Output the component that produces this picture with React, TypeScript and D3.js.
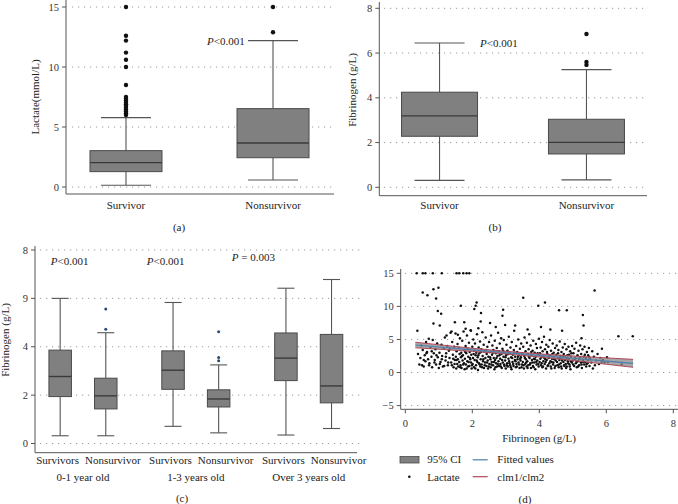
import React from "react";
import * as d3 from "d3";

const FONT = "'Liberation Serif', 'Times New Roman', serif";

// (a) lactate by outcome
const outcomeA = ["Survivor", "Nonsurvivor"];
const lactateStats = [
  { lo: 0.14, q1: 1.28, med: 2.03, q3: 3.03, hi: 5.78 },
  { lo: 0.58, q1: 2.44, med: 3.67, q3: 6.53, hi: 12.2 },
];
const lactateOutliers = [
  [15, 12.6, 12.2, 11.2, 10.6, 10.0, 8.5, 7.5, 7.35, 7.2, 7.05, 6.9, 6.75, 6.6, 6.45, 6.3, 6.15, 6.0],
  [12.9, 15],
];
const lactateTicks = [0, 5, 10, 15];

// (b) fibrinogen by outcome
const fibStats = [
  { lo: 0.31, q1: 2.28, med: 3.19, q3: 4.25, hi: 6.45 },
  { lo: 0.33, q1: 1.49, med: 2.01, q3: 3.04, hi: 5.26 },
];
const fibOutliers = [[], [6.85, 5.6, 5.47]];
const fibTicks = [0, 2, 4, 6, 8];

// (c) fibrinogen by age group and outcome
const ageGroups = ["0-1 year old", "1-3 years old", "Over 3 years old"];
const outcomeC = ["Survivors", "Nonsurvivor"];
const ageStats = [
  { lo: 0.32, q1: 1.94, med: 2.77, q3: 3.86, hi: 6.0 },
  { lo: 0.32, q1: 1.43, med: 1.97, q3: 2.7, hi: 4.58 },
  { lo: 0.71, q1: 2.24, med: 3.03, q3: 3.83, hi: 5.83 },
  { lo: 0.44, q1: 1.51, med: 1.84, q3: 2.22, hi: 3.25 },
  { lo: 0.35, q1: 2.6, med: 3.53, q3: 4.57, hi: 6.42 },
  { lo: 0.62, q1: 1.68, med: 2.38, q3: 4.51, hi: 6.78 },
];
const ageOutliers = [[], [5.56, 4.72], [], [4.62, 3.56, 3.42], [], []];
const ageP = [
  ["P", "<0.001"],
  ["P", "<0.001"],
  ["P", " = 0.003"],
];
const ageTickVals = [0, 2, 4, 6, 8];
const ageTickLabels = ["0", "2", "4", "9", "8"];

// (d) lactate vs fibrinogen
const lactatePoints: [number, number][] = [
  [0.34, 15], [0.52, 15], [0.6, 15], [0.82, 15], [1.09, 15], [1.53, 15], [1.61, 15], [1.73, 15], [1.83, 15], [1.91, 15],
  [0.52, 12.1], [0.66, 11.7], [0.84, 12.6], [0.99, 12.8], [0.92, 11.2], [0.97, 9.3], [1.07, 8.9], [0.84, 7.4], [1.03, 7.1], [0.36, 6.3],
  [2.13, 10.6], [2.1, 10.1], [1.66, 10.1], [2.06, 9.6], [2.26, 9.0], [2.92, 9.5], [2.9, 8.6], [3.52, 11.3], [3.97, 10.1], [4.17, 10.6],
  [4.59, 9.4], [4.82, 9.4], [5.3, 8.7], [5.32, 7.1], [5.65, 12.4], [6.36, 5.5], [6.79, 5.5], [6.46, 1.2], [5.26, 5.2], [5.87, 3.6],
  [1.48, 7.6], [1.76, 7.6], [1.8, 6.6], [1.96, 6.3], [2.18, 6.7], [2.53, 7.5], [2.7, 6.9], [2.98, 7.2], [3.28, 7.1], [3.65, 6.5],
  [4.05, 6.9], [4.33, 6.5], [4.68, 6.3], [2.25, 7.7], [1.38, 6.2], [1.23, 5.6], [1.57, 5.7],
  [0.38, 2.8], [0.42, 1.2], [0.45, 2.2], [0.48, 4.1], [0.5, 1.1], [0.52, 3.4], [0.55, 0.9], [0.58, 2.6], [0.6, 1.7], [0.62, 4.6],
  [0.65, 3.1], [0.68, 2.0], [0.7, 5.1], [0.72, 1.4], [0.75, 3.8], [0.78, 2.4], [0.8, 0.8], [0.82, 4.9], [0.85, 2.9], [0.88, 1.9],
  [0.9, 3.5], [0.92, 1.2], [0.95, 4.4], [0.97, 2.3], [1.0, 0.7],
  [1.02, 3.0], [1.05, 1.6], [1.08, 4.2], [1.1, 2.5], [1.12, 0.9], [1.15, 3.6], [1.18, 5.3], [1.2, 1.8], [1.22, 2.9], [1.25, 4.0],
  [1.27, 1.1], [1.3, 3.3], [1.32, 2.2], [1.35, 6.0], [1.37, 1.5], [1.4, 4.6], [1.42, 2.7], [1.44, 0.8], [1.46, 3.9], [1.48, 1.9], [1.5, 5.9],
  [1.51, 2.4], [1.52, 0.6], [1.53, 3.2], [1.55, 1.3], [1.56, 4.3], [1.57, 2.0], [1.58, 0.9], [1.6, 3.7], [1.61, 1.6], [1.62, 2.8],
  [1.63, 5.2], [1.65, 1.1], [1.66, 2.3], [1.67, 3.0], [1.68, 0.7], [1.7, 4.8], [1.71, 1.8], [1.72, 2.6], [1.74, 6.2], [1.75, 1.4],
  [1.76, 3.4], [1.77, 0.5], [1.78, 2.1], [1.8, 4.0], [1.81, 1.2], [1.82, 2.9], [1.84, 5.6], [1.85, 1.7], [1.86, 3.6], [1.87, 0.9],
  [1.88, 2.4], [1.9, 4.5], [1.91, 1.0], [1.92, 3.1], [1.94, 2.0], [1.95, 6.4], [1.96, 1.5], [1.97, 2.7], [1.98, 0.6], [2.0, 3.9],
  [2.01, 1.3], [2.02, 2.2], [2.03, 5.0], [2.05, 0.8], [2.06, 3.3], [2.07, 1.9], [2.08, 4.4], [2.1, 2.6], [2.11, 1.1], [2.12, 3.0],
  [2.14, 5.8], [2.15, 1.6], [2.16, 2.3], [2.17, 0.4], [2.19, 3.8], [2.2, 1.4], [2.21, 2.9], [2.23, 4.7], [2.24, 0.9], [2.25, 2.0],
  [2.27, 3.5], [2.28, 1.2], [2.3, 6.1], [2.31, 2.5], [2.32, 1.7], [2.34, 4.2], [2.35, 0.7], [2.36, 3.2], [2.38, 1.5], [2.39, 2.2],
  [2.4, 5.3], [2.42, 1.0], [2.43, 2.8], [2.45, 3.9], [2.46, 1.8], [2.47, 0.6], [2.48, 2.4], [2.5, 4.6],
  [2.51, 1.3], [2.52, 3.1], [2.54, 2.0], [2.55, 0.8], [2.56, 5.6], [2.58, 1.6], [2.59, 2.7], [2.6, 4.1], [2.62, 1.1], [2.63, 3.4],
  [2.64, 2.2], [2.66, 0.5], [2.67, 4.8], [2.68, 1.9], [2.7, 2.9], [2.71, 1.4], [2.73, 3.7], [2.74, 0.9], [2.75, 2.5], [2.77, 6.0],
  [2.78, 1.7], [2.79, 3.2], [2.8, 1.0], [2.82, 4.4], [2.83, 2.1], [2.84, 1.3], [2.86, 5.2], [2.87, 2.8], [2.88, 0.7], [2.9, 3.6],
  [2.91, 1.5], [2.93, 2.4], [2.94, 4.9], [2.95, 1.2], [2.97, 3.0], [2.98, 1.8], [3.0, 0.6],
  [3.01, 2.6], [3.02, 4.2], [3.04, 1.4], [3.05, 3.3], [3.06, 0.9], [3.08, 2.1], [3.09, 5.4], [3.1, 1.7], [3.12, 2.9], [3.13, 1.1],
  [3.14, 3.8], [3.16, 2.3], [3.17, 0.5], [3.18, 4.6], [3.2, 1.6], [3.21, 2.7], [3.23, 1.0], [3.24, 3.4], [3.25, 6.3], [3.27, 1.9],
  [3.28, 2.4], [3.3, 0.8], [3.31, 4.0], [3.32, 1.3], [3.34, 3.1], [3.35, 2.0], [3.37, 5.0], [3.38, 1.5], [3.39, 2.6], [3.41, 0.7],
  [3.42, 3.6], [3.44, 1.8], [3.45, 2.3], [3.46, 4.4], [3.48, 1.2], [3.49, 2.9],
  [3.51, 1.6], [3.52, 3.9], [3.54, 0.6], [3.55, 2.5], [3.56, 5.3], [3.58, 1.3], [3.59, 3.2], [3.6, 2.0], [3.62, 0.9], [3.63, 4.5],
  [3.64, 1.7], [3.66, 2.8], [3.67, 1.1], [3.68, 3.5], [3.7, 5.8], [3.71, 2.2], [3.73, 1.4], [3.74, 4.1], [3.75, 0.7], [3.77, 2.6],
  [3.78, 1.9], [3.8, 3.3], [3.81, 1.0], [3.82, 4.8], [3.84, 2.1], [3.85, 1.5], [3.86, 3.0], [3.88, 0.5], [3.89, 2.4], [3.9, 4.3],
  [3.92, 1.2], [3.93, 3.7], [3.94, 1.8], [3.96, 2.7], [3.98, 0.9], [3.99, 5.1],
  [4.01, 1.6], [4.02, 2.9], [4.04, 3.8], [4.05, 1.1], [4.06, 2.3], [4.08, 4.6], [4.09, 0.8], [4.1, 3.2], [4.12, 1.7], [4.13, 2.5],
  [4.14, 5.4], [4.16, 1.3], [4.17, 3.5], [4.18, 2.0], [4.2, 0.6], [4.21, 4.2], [4.22, 1.9], [4.24, 2.8], [4.25, 1.0], [4.27, 3.9],
  [4.28, 2.2], [4.3, 1.4], [4.31, 4.9], [4.32, 2.6], [4.34, 0.9], [4.35, 3.3], [4.37, 1.6], [4.38, 2.1], [4.4, 4.4], [4.41, 1.2],
  [4.43, 3.0], [4.44, 2.4], [4.46, 0.7], [4.47, 3.7], [4.49, 1.8],
  [4.51, 2.7], [4.52, 4.1], [4.54, 1.1], [4.55, 2.2], [4.57, 3.4], [4.58, 0.8], [4.6, 1.9], [4.61, 4.7], [4.63, 2.5], [4.64, 1.4],
  [4.66, 3.1], [4.67, 0.6], [4.69, 2.0], [4.7, 3.8], [4.72, 1.6], [4.73, 2.8], [4.75, 1.0], [4.76, 4.3], [4.78, 2.3], [4.79, 1.3],
  [4.81, 3.5], [4.82, 0.9], [4.84, 2.6], [4.85, 1.7], [4.87, 3.9], [4.88, 2.1], [4.9, 1.2], [4.92, 3.2], [4.93, 0.5], [4.95, 2.4],
  [4.97, 1.5], [4.98, 4.0],
  [5.0, 1.8], [5.02, 2.9], [5.04, 1.0], [5.05, 3.6], [5.07, 2.2], [5.09, 1.4], [5.1, 4.5], [5.12, 0.8], [5.14, 2.6], [5.15, 1.7],
  [5.17, 3.3], [5.19, 1.1], [5.2, 2.0], [5.22, 4.1], [5.24, 1.5], [5.25, 2.8], [5.27, 0.7], [5.29, 3.5], [5.3, 1.9], [5.32, 2.4],
  [5.34, 1.2], [5.35, 3.9], [5.37, 1.6], [5.39, 2.2], [5.4, 0.9], [5.42, 3.1], [5.44, 1.4], [5.46, 2.6], [5.48, 3.7], [5.5, 1.0],
  [5.52, 2.0], [5.55, 1.5], [5.58, 3.2], [5.6, 0.6], [5.63, 2.4], [5.66, 1.1], [5.7, 1.8], [5.74, 2.8], [5.78, 1.3], [5.82, 2.2],
  [5.86, 1.6], [5.9, 1.9], [5.95, 1.5], [6.02, 2.3], [6.05, 1.6],
  [1.53, 1.9], [1.64, 0.8], [1.69, 2.5], [1.73, 1.2], [1.79, 3.1], [1.83, 0.6], [1.89, 1.6], [1.93, 2.2], [1.99, 1.1], [2.04, 2.8],
  [2.09, 0.6], [2.13, 1.8], [2.18, 2.6], [2.22, 1.2], [2.26, 3.1], [2.29, 0.8], [2.33, 2.0], [2.37, 1.1], [2.41, 3.4], [2.44, 1.5],
  [2.49, 0.9], [2.53, 2.3], [2.57, 1.2], [2.61, 3.0], [2.65, 1.6], [2.69, 0.8], [2.72, 2.2], [2.76, 1.3], [2.81, 2.6], [2.85, 0.9],
  [2.89, 1.9], [2.92, 3.3], [2.96, 1.0], [2.99, 2.3], [3.03, 1.1], [3.07, 2.8], [3.11, 1.4], [3.15, 0.8], [3.19, 2.2], [3.22, 1.3],
  [3.26, 3.0], [3.29, 1.7], [3.33, 0.9], [3.36, 2.4], [3.4, 1.2], [3.43, 2.1], [3.47, 0.8], [3.5, 2.7], [3.53, 1.1], [3.57, 2.2],
  [3.61, 1.5], [3.65, 0.7], [3.69, 2.4], [3.72, 1.2], [3.76, 3.1], [3.79, 1.5], [3.83, 0.8], [3.87, 2.0], [3.91, 1.6], [3.95, 2.9],
  [3.97, 1.3], [4.03, 2.1], [4.07, 1.4], [4.11, 0.9], [4.15, 2.2], [4.19, 1.6], [4.23, 3.1], [4.26, 1.1], [4.29, 2.4], [4.33, 1.7],
  [4.36, 0.6], [4.39, 2.8], [4.42, 1.5], [4.45, 2.0], [4.48, 1.0], [4.53, 1.6], [4.56, 2.9], [4.59, 1.2], [4.62, 2.2], [4.65, 0.9],
  [4.68, 1.8], [4.71, 2.5], [4.74, 1.1], [4.77, 1.9], [4.8, 0.7], [4.83, 2.2], [4.86, 1.4], [4.89, 2.7], [4.91, 0.9], [4.94, 1.7],
  [4.96, 2.9], [5.01, 1.2], [5.06, 2.0], [5.11, 1.6], [5.16, 0.9], [5.21, 2.3], [5.26, 1.2], [5.31, 1.6], [5.36, 2.7], [5.41, 1.3],
  [5.45, 1.9], [5.49, 2.3], [0.55, 1.9], [0.63, 2.9], [0.71, 1.1], [0.79, 3.2], [0.87, 1.5], [0.93, 2.6], [1.03, 1.3], [1.09, 2.0],
  [1.16, 1.0], [1.21, 2.4], [1.28, 1.5], [1.33, 3.6], [1.39, 1.1], [1.43, 2.1], [1.47, 1.3],
];
const fitX = [0.3, 1, 2, 3, 4, 5, 6, 6.8];
const fitY = [4.16, 3.86, 3.43, 3.01, 2.58, 2.16, 1.73, 1.39];
const ciHalf = [0.42, 0.34, 0.24, 0.2, 0.24, 0.34, 0.48, 0.6];
const scatterYTicks = [-5, 0, 5, 10, 15];
const scatterXTicks = [0, 2, 4, 6, 8];

const AXIS = "#555";
const GRID = "#9a9a9a";
const BOX_FILL = "#808080";
const BOX_LINE = "#4a4a4a";

type Stat = { lo: number; q1: number; med: number; q3: number; hi: number };

function Box({ cx, w, cap, s, y, out, r, dot }: any) {
  const st: Stat = s;
  return (
    <g>
      <line x1={cx} x2={cx} y1={y(st.q3)} y2={y(st.hi)} stroke={AXIS} strokeWidth={1.1} />
      <line x1={cx} x2={cx} y1={y(st.q1)} y2={y(st.lo)} stroke={AXIS} strokeWidth={1.1} />
      <line x1={cx - cap / 2} x2={cx + cap / 2} y1={y(st.hi)} y2={y(st.hi)} stroke={AXIS} strokeWidth={1.1} />
      <line x1={cx - cap / 2} x2={cx + cap / 2} y1={y(st.lo)} y2={y(st.lo)} stroke={AXIS} strokeWidth={1.1} />
      <rect x={cx - w / 2} y={y(st.q3)} width={w} height={y(st.q1) - y(st.q3)} fill={BOX_FILL} stroke={BOX_LINE} strokeWidth={1} />
      <line x1={cx - w / 2} x2={cx + w / 2} y1={y(st.med)} y2={y(st.med)} stroke="#3a3a3a" strokeWidth={1.4} />
      {out.map((v: number, i: number) => (
        <circle key={i} cx={cx} cy={y(v)} r={r} fill={dot} />
      ))}
    </g>
  );
}

function YAxis({ x, y, vals, labels, gx1, gx2, top, bottom, fs = 10.5 }: any) {
  return (
    <g>
      {vals.map((v: number, i: number) => (
        <g key={v}>
          <line x1={gx1} x2={gx2} y1={y(v)} y2={y(v)} stroke={GRID} strokeWidth={1} strokeDasharray="1.2 4.8" />
          <line x1={x - 4} x2={x} y1={y(v)} y2={y(v)} stroke={AXIS} strokeWidth={1} />
          <text x={x - 7} y={y(v)} dy="0.35em" textAnchor="end" fontSize={fs} fill="#333">
            {labels ? labels[i] : v}
          </text>
        </g>
      ))}
      <line x1={x} x2={x} y1={top} y2={bottom} stroke={AXIS} strokeWidth={1} />
    </g>
  );
}

function PText({ x, y, parts }: any) {
  return (
    <text x={x} y={y} fontSize={11} fill="#222">
      <tspan fontStyle="italic">{parts[0]}</tspan>
      <tspan>{parts[1]}</tspan>
    </text>
  );
}

export default function App() {
  // panel (a)
  const yA = d3.scaleLinear().domain([0, 15]).range([187, 7]);
  const xA = d3.scalePoint().domain(outcomeA).range([66, 333]).padding(0.408);
  // panel (b)
  const yB = d3.scaleLinear().domain([0, 8]).range([187.3, 8.3]);
  const xB = d3.scalePoint().domain(outcomeA).range([379.3, 646.7]).padding(0.41);
  // panel (c)
  const yC = d3.scaleLinear().domain([0, 8]).range([443.5, 250]);
  const xG = d3.scalePoint().domain(ageGroups).range([35, 356.7]).padding(0.425);
  const xIn = d3.scalePoint().domain(outcomeC).range([-22.8, 22.8]);
  const pX = [50.7, 146.7, 231.7];
  const pY = [265, 265, 261];
  // panel (d)
  const xD = d3.scaleLinear().domain([0, 8]).range([405.3, 673.3]);
  const yD = d3.scaleLinear().domain([-5, 15]).range([405.6, 273.3]);
  const fit = fitX.map((x, i) => ({ x, y: fitY[i], lo: fitY[i] - ciHalf[i], hi: fitY[i] + ciHalf[i] }));
  const area = d3.area<any>().x((d) => xD(d.x)).y0((d) => yD(d.lo)).y1((d) => yD(d.hi));
  const line = d3.line<any>().x((d) => xD(d.x));

  return (
    <svg
      width={678}
      height={504}
      style={{ position: "absolute", left: 0, top: 0, background: "#fff" }}
      fontFamily={FONT}
    >
      {/* (a) */}
      <YAxis x={66} y={yA} vals={lactateTicks} gx1={72} gx2={333} top={0} bottom={194} />
      <line x1={66} x2={334} y1={194} y2={194} stroke={AXIS} />
      {outcomeA.map((c, i) => (
        <Box key={c} cx={xA(c)} w={72} cap={50} s={lactateStats[i]} y={yA} out={lactateOutliers[i]} r={2.2} dot="#111" />
      ))}
      {outcomeA.map((c) => (
        <text key={c} x={xA(c)} y={209} textAnchor="middle" fontSize={11} fill="#222">{c}</text>
      ))}
      <PText x={207} y={44.5} parts={["P", "<0.001"]} />
      <text transform="translate(39,97) rotate(-90)" textAnchor="middle" fontSize={11} fill="#222">Lactate(mmol/L)</text>
      <text x={179} y={231} textAnchor="middle" fontSize={11} fill="#222">(a)</text>

      {/* (b) */}
      <YAxis x={379.3} y={yB} vals={fibTicks} gx1={384} gx2={646} top={2} bottom={195.7} />
      <line x1={379.3} x2={647} y1={195.7} y2={195.7} stroke={AXIS} />
      {outcomeA.map((c, i) => (
        <Box key={c} cx={xB(c)} w={76} cap={50} s={fibStats[i]} y={yB} out={fibOutliers[i]} r={2.2} dot="#111" />
      ))}
      {outcomeA.map((c) => (
        <text key={c} x={xB(c)} y={209} textAnchor="middle" fontSize={11} fill="#222">{c}</text>
      ))}
      <PText x={480} y={47} parts={["P", "<0.001"]} />
      <text transform="translate(356,90) rotate(-90)" textAnchor="middle" fontSize={11} fill="#222">Fibrinogen (g/L)</text>
      <text x={495} y={231} textAnchor="middle" fontSize={11} fill="#222">(b)</text>

      {/* (c) */}
      <YAxis x={35} y={yC} vals={ageTickVals} labels={ageTickLabels} gx1={40} gx2={360} top={246} bottom={452.7} />
      <line x1={35} x2={357} y1={452.7} y2={452.7} stroke={AXIS} />
      {ageGroups.map((g, gi) =>
        outcomeC.map((o, oi) => {
          const k = gi * 2 + oi;
          return (
            <Box key={g + o} cx={(xG(g) as number) + (xIn(o) as number)} w={22.5} cap={17} s={ageStats[k]} y={yC} out={ageOutliers[k]} r={1.5} dot="#2a4a73" />
          );
        })
      )}
      {ageGroups.map((g) => (
        <g key={g}>
          <text x={(xG(g) as number) - 4} y={464} textAnchor="end" fontSize={11} fill="#222">{outcomeC[0]}</text>
          <text x={(xG(g) as number) + 2} y={464} textAnchor="start" fontSize={11} fill="#222">{outcomeC[1]}</text>
          <text x={xG(g)} y={480.5} textAnchor="middle" fontSize={11} fill="#222">{g}</text>
        </g>
      ))}
      {ageP.map((p, i) => (
        <PText key={i} x={pX[i]} y={pY[i]} parts={p} />
      ))}
      <text transform="translate(9,340) rotate(-90)" textAnchor="middle" fontSize={11} fill="#222">Fibrinogen (g/L)</text>
      <text x={182} y={502} textAnchor="middle" fontSize={11} fill="#222">(c)</text>

      {/* (d) */}
      <YAxis x={400.7} y={yD} vals={scatterYTicks} labels={scatterYTicks.map((v) => (v < 0 ? "\u2212" + Math.abs(v) : String(v)))} gx1={405} gx2={678} top={269} bottom={409.3} />
      <line x1={400.7} x2={678} y1={409.3} y2={409.3} stroke={AXIS} />
      {scatterXTicks.map((v) => (
        <g key={v}>
          <line x1={xD(v)} x2={xD(v)} y1={409.3} y2={413.3} stroke={AXIS} />
          <text x={xD(v)} y={427} textAnchor="middle" fontSize={10.5} fill="#333">{v}</text>
        </g>
      ))}
      {lactatePoints.map(([fx, lv], i) => (
        <circle key={i} cx={xD(fx)} cy={yD(lv)} r={1.25} fill="#111" />
      ))}
      <path d={area(fit) as string} fill="#8a8a8a" fillOpacity={0.75} />
      <path d={line.y((d: any) => yD(d.hi))(fit) as string} fill="none" stroke="#b0475a" strokeWidth={1} />
      <path d={line.y((d: any) => yD(d.lo))(fit) as string} fill="none" stroke="#b0475a" strokeWidth={1} />
      <path d={line.y((d: any) => yD(d.y))(fit) as string} fill="none" stroke="#4f7fae" strokeWidth={1.2} />
      <text x={539} y={442} textAnchor="middle" fontSize={11} fill="#222">Fibrinogen (g/L)</text>

      <rect x={400} y={456.5} width={19} height={6.5} fill={BOX_FILL} stroke={BOX_LINE} strokeWidth={0.8} />
      <text x={427.3} y={463.3} fontSize={11} fill="#222">95% CI</text>
      <line x1={472.7} x2={487.7} y1={459.8} y2={459.8} stroke="#4f7fae" strokeWidth={1.2} />
      <text x={497.3} y={463.3} fontSize={11} fill="#222">Fitted values</text>
      <circle cx={409.3} cy={476.7} r={1.3} fill="#111" />
      <text x={427.3} y={480.5} fontSize={11} fill="#222">Lactate</text>
      <line x1={472.7} x2={487.7} y1={476.7} y2={476.7} stroke="#b0475a" strokeWidth={1.2} />
      <text x={497.3} y={480.5} fontSize={11} fill="#222">clm1/clm2</text>
      <text x={525} y={503} textAnchor="middle" fontSize={11} fill="#222">(d)</text>
    </svg>
  );
}
